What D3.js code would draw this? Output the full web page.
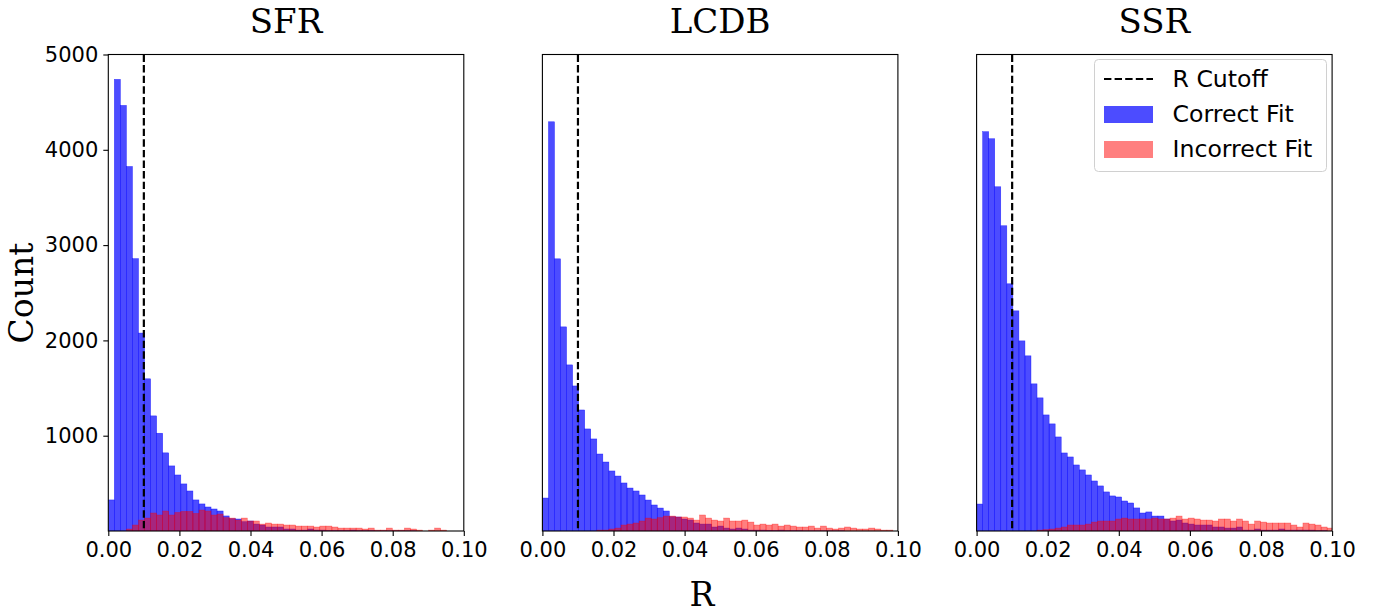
<!DOCTYPE html>
<html>
<head>
<meta charset="utf-8">
<script src="https://cdn.jsdelivr.net/npm/d3@7"></script>
<style>
  html, body { margin: 0; padding: 0; background: #fff; }
  svg { display: block; }
</style>
</head>
<body>
<svg id="chart" width="1377" height="613"></svg>
<script>
// ---- data ----
const panelTitles = ["SFR", "LCDB", "SSR"];
const binWidth = 0.0017;
const rCutoff = 0.01;
const xTicks = [0.00, 0.02, 0.04, 0.06, 0.08, 0.10];
const yTicks = [1000, 2000, 3000, 4000, 5000];
const legendLabels = ["R Cutoff", "Correct Fit", "Incorrect Fit"];

const sfrCorrect = [326,4739,4466,3825,2858,2077,1597,1208,1026,820,683,588,494,420,326,284,252,231,210,158,130,126,98,105,73,63,42,42,42,21,21,10,10,21,10,10,5,5,5,5,10,3,3,3,2,2,2,2,2,2,2,0,0,0,0,0,0,0,0];
const sfrIncorrect = [0,0,0,21,63,115,136,189,168,210,168,195,206,206,185,220,210,168,178,140,136,115,136,105,105,73,84,73,73,63,63,52,52,52,42,52,52,42,31,31,31,31,21,31,10,10,31,10,10,31,21,10,0,10,31,10,0,0,0];

const lcdbCorrect = [346,4294,2856,2142,1743,1522,1270,1071,966,808,724,630,577,504,451,420,378,325,273,241,210,150,147,126,115,84,73,73,42,52,31,21,31,21,10,10,10,8,5,10,3,3,3,2,2,2,2,2,2,2,0,0,0,0,0,0,0,0,0];
const lcdbIncorrect = [0,0,0,0,0,0,0,0,0,10,10,21,31,63,73,84,105,136,126,140,157,157,147,147,136,115,168,136,115,105,136,105,105,115,94,63,73,63,73,52,63,52,42,42,52,31,52,31,21,31,42,31,21,21,31,21,10,10,0];

const ssrCorrect = [283,4190,4116,3612,3203,2594,2310,1995,1838,1544,1397,1218,1124,987,819,777,693,641,588,525,473,410,368,357,315,294,242,189,200,157,157,126,105,115,84,73,63,63,63,42,42,31,31,42,10,10,21,10,10,10,21,10,10,10,10,10,3,3,0];
const ssrIncorrect = [0,0,0,0,0,0,0,0,0,0,10,15,21,31,42,63,63,63,73,94,105,105,105,126,136,126,126,126,126,136,126,126,136,157,126,136,126,115,115,105,126,126,105,126,105,73,105,94,84,84,84,84,63,42,84,73,63,42,31];

const correctSeries = [sfrCorrect, lcdbCorrect, ssrCorrect];
const incorrectSeries = [sfrIncorrect, lcdbIncorrect, ssrIncorrect];

// ---- layout ----
const panelLeft = [108.3, 542.4, 976.6];
const panelW = 355.5;
const plotTop = 54.5, plotBottom = 531;
const blue = "rgba(0,0,255,0.7)";
const red = "rgba(255,0,0,0.5)";
const sans = "DejaVu Sans, sans-serif";
const serif = "DejaVu Serif, serif";

const svg = d3.select("#chart");
const y = d3.scaleLinear().domain([0, 5000]).range([plotBottom, plotTop]);

panelTitles.forEach((title, p) => {
  const x = d3.scaleLinear().domain([0, 0.1]).range([panelLeft[p], panelLeft[p] + panelW]);
  const clipId = "clip" + p;
  svg.append("clipPath").attr("id", clipId)
    .append("rect").attr("x", panelLeft[p]).attr("y", plotTop).attr("width", panelW).attr("height", plotBottom - plotTop);
  const g = svg.append("g").attr("clip-path", `url(#${clipId})`);

  const drawBars = (vals, color) => {
    g.append("g").selectAll("rect")
      .data(vals.map((v, i) => ({ x0: i * binWidth, x1: (i + 1) * binWidth, v })).filter(d => d.v > 0))
      .join("rect")
      .attr("x", d => x(d.x0))
      .attr("width", d => x(d.x1) - x(d.x0))
      .attr("y", d => y(d.v))
      .attr("height", d => y(0) - y(d.v))
      .attr("fill", color)
      .attr("stroke", color)
      .attr("stroke-width", 0.5);
  };
  drawBars(correctSeries[p], blue);
  drawBars(incorrectSeries[p], red);

  // cutoff line
  g.append("line")
    .attr("x1", x(rCutoff)).attr("x2", x(rCutoff))
    .attr("y1", plotTop).attr("y2", plotBottom)
    .attr("stroke", "#000").attr("stroke-width", 2.2)
    .attr("stroke-dasharray", "7.4,3.2");

  // x axis
  const xAxis = d3.axisBottom(x).tickValues(xTicks).tickFormat(d3.format(".2f")).tickSize(5).tickPadding(6);
  const xg = svg.append("g").attr("transform", `translate(0,${plotBottom})`).call(xAxis);
  xg.select(".domain").remove();
  xg.selectAll("line").attr("stroke", "#000").attr("stroke-width", 1.1);
  xg.selectAll("text").attr("font-family", sans).attr("font-size", 21).attr("fill", "#000");

  if (p === 0) {
    const yAxis = d3.axisLeft(y).tickValues(yTicks).tickFormat(d3.format("d")).tickSize(5).tickPadding(5);
    const yg = svg.append("g").attr("transform", `translate(${panelLeft[p]},0)`).call(yAxis);
    yg.select(".domain").remove();
    yg.selectAll("line").attr("stroke", "#000").attr("stroke-width", 1.1);
    yg.selectAll("text").attr("font-family", sans).attr("font-size", 21).attr("fill", "#000");
  }

  // frame
  svg.append("rect")
    .attr("x", panelLeft[p]).attr("y", plotTop).attr("width", panelW).attr("height", plotBottom - plotTop)
    .attr("fill", "none").attr("stroke", "#000").attr("stroke-width", 1.1);

  // title
  svg.append("text")
    .attr("x", panelLeft[p] + panelW / 2).attr("y", 32.5)
    .attr("text-anchor", "middle")
    .attr("font-family", serif).attr("font-size", 34)
    .text(title);
});

// axis labels
svg.append("text")
  .attr("x", 702).attr("y", 606)
  .attr("text-anchor", "middle")
  .attr("font-family", serif).attr("font-size", 33)
  .text("R");
svg.append("text")
  .attr("transform", "translate(33,293) rotate(-90)")
  .attr("text-anchor", "middle")
  .attr("font-family", serif).attr("font-size", 33)
  .text("Count");

// legend
const lg = svg.append("g");
lg.append("rect")
  .attr("x", 1094.5).attr("y", 59.5).attr("width", 232).attr("height", 112)
  .attr("rx", 4).attr("fill", "rgba(255,255,255,0.8)")
  .attr("stroke", "#d0d0d0").attr("stroke-width", 1);
lg.append("line")
  .attr("x1", 1104).attr("x2", 1153).attr("y1", 79).attr("y2", 79)
  .attr("stroke", "#000").attr("stroke-width", 2.2).attr("stroke-dasharray", "7.4,3.2");
lg.append("rect").attr("x", 1104).attr("y", 106).attr("width", 49).attr("height", 17).attr("fill", blue);
lg.append("rect").attr("x", 1104).attr("y", 141).attr("width", 49).attr("height", 17).attr("fill", red);
const legendY = [79, 114, 149];
legendLabels.forEach((t, i) => {
  lg.append("text")
    .attr("x", 1172.5).attr("y", legendY[i]).attr("dy", "0.36em")
    .attr("font-family", sans).attr("font-size", 23.6)
    .text(t);
});
</script>
</body>
</html>
